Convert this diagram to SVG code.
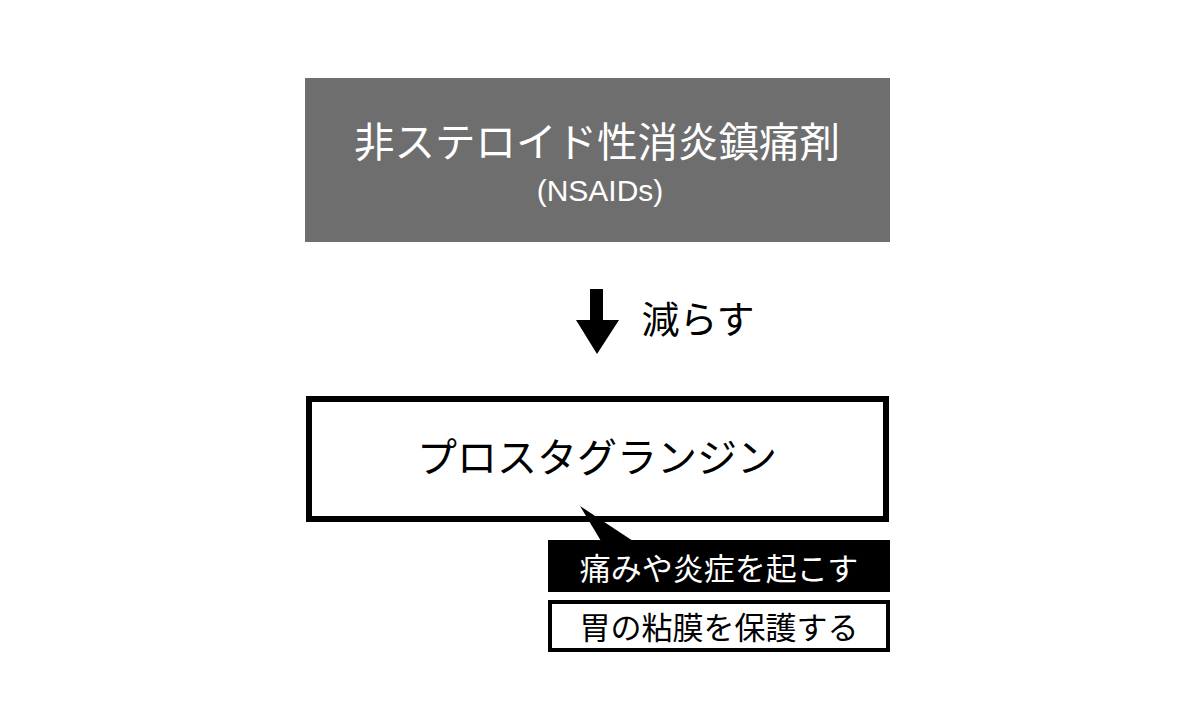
<svg xmlns="http://www.w3.org/2000/svg" width="1200" height="720" viewBox="0 0 1200 720">
<style>
text{font-family:"Noto Sans CJK JP","Noto Sans",sans-serif;text-anchor:middle}
text.lat{font-family:"Liberation Sans",Arial,sans-serif}
.w{fill:#fff}
.k{fill:#000}
</style>
<rect width="1200" height="720" fill="#fff"/>
<g id="nsaids">
<rect x="305" y="78" width="585" height="164" fill="#6e6e6e"/>
<text class="w" x="597" y="157" font-size="40.5">非ステロイド性消炎鎮痛剤</text>
<text class="w lat" x="600" y="201" font-size="30">(NSAIDs)</text>
</g>
<g id="connectors">
<polygon class="k" points="590,289 603,289 603,320 619,320 597,354 576,320 590,320"/>
<text class="k" x="698" y="333" font-size="38">減らす</text>
</g>
<g id="prostaglandin">
<rect x="309" y="399" width="577" height="120" fill="#fff" stroke="#000" stroke-width="6"/>
<text class="k" x="597" y="472" font-size="40">プロスタグランジン</text>
</g>
<g id="inflammation">
<rect x="548" y="540" width="342" height="52" fill="#000"/>
<polygon class="k" points="580,506 633,541 601,541"/>
<text class="w" x="719" y="580" font-size="31">痛みや炎症を起こす</text>
</g>
<g id="protect">
<rect x="550" y="602" width="338" height="48" fill="#fff" stroke="#000" stroke-width="4"/>
<text class="k" x="719" y="639" font-size="31">胃の粘膜を保護する</text>
</g>
</svg>
